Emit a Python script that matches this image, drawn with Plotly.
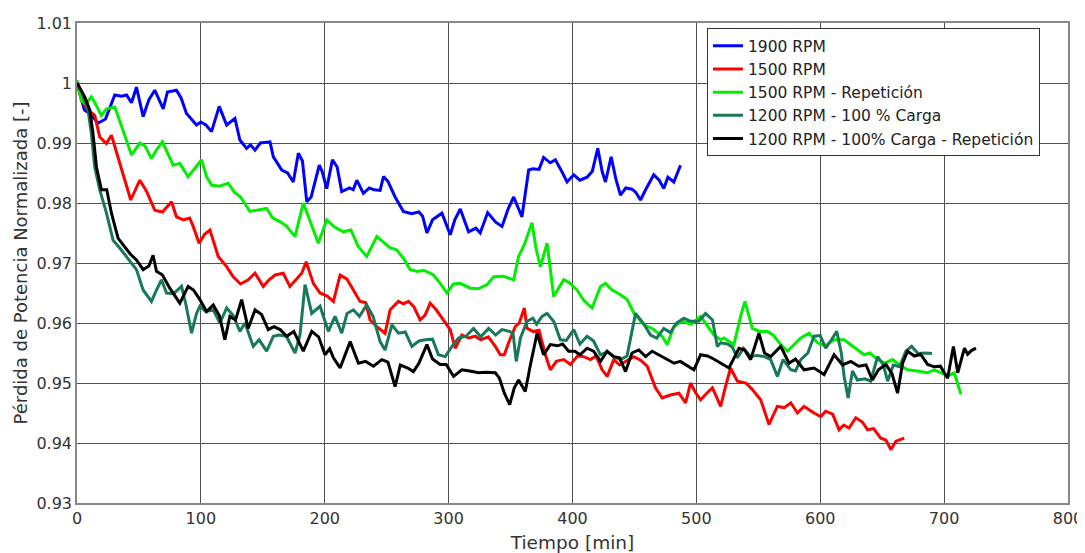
import plotly.graph_objects as go

# ---------------- data ----------------
t_1900 = [0, 6, 10.3, 17, 23, 30.5, 36, 40, 44, 48, 53.4, 58, 62.8, 69.6, 73, 80.3, 84, 88.4, 96.5, 100, 104, 108.6,
          114.8, 120.8, 127.5, 131.5, 136.9, 140, 143.7, 148, 155.8, 158.5, 165.3, 170, 174.6, 178.7, 182, 185.5, 189,
          195.6, 198, 201.6, 206.2, 210, 213.7, 220, 223, 225.9, 231.2, 236, 240, 244.7, 247.4, 251, 256.8, 263.5, 270,
          276, 279, 282.5, 287, 294.6, 301.3, 305, 309.4, 316.1, 322, 325.5, 331.5, 338, 343.1, 348, 352.5, 359.2, 364.6,
          368, 373, 376.7, 382, 386.2, 392, 395.6, 401, 406, 411.8, 416, 420.4, 424, 426.6, 431.2, 435, 438.7, 443, 448,
          451, 454.9, 459, 465.6, 470, 473.7, 477, 481.8, 487.2]
v_1900 = [1.0, 0.9955, 0.9949, 0.9933, 0.9940, 0.9980, 0.9978, 0.9980, 0.9967, 0.9993, 0.9944, 0.9972, 0.9988, 0.9957,
          0.9985, 0.9988, 0.9975, 0.9949, 0.9930, 0.9935, 0.9930, 0.9919, 0.9961, 0.9930, 0.9941, 0.9905, 0.9891, 0.9897,
          0.9888, 0.9900, 0.9902, 0.9877, 0.9855, 0.9850, 0.9835, 0.9883, 0.9870, 0.9802, 0.9810, 0.9863, 0.9852, 0.9824,
          0.9872, 0.9860, 0.9819, 0.9825, 0.9822, 0.9838, 0.9816, 0.9825, 0.9822, 0.9821, 0.9844, 0.9836, 0.9810, 0.9786,
          0.9782, 0.9785, 0.9778, 0.9750, 0.9772, 0.9783, 0.9747, 0.9772, 0.9790, 0.9752, 0.9758, 0.9750, 0.9784, 0.9768,
          0.9761, 0.9790, 0.9810, 0.9777, 0.9855, 0.9857, 0.9856, 0.9876, 0.9867, 0.9872, 0.9850, 0.9835, 0.9847, 0.9838,
          0.9843, 0.9853, 0.9891, 0.9852, 0.9835, 0.9877, 0.9840, 0.9813, 0.9825, 0.9823, 0.9818, 0.9805, 0.9822, 0.9847,
          0.9838, 0.9824, 0.9843, 0.9835, 0.9863]

t_1500 = [0, 4, 8.9, 14.3, 18.4, 23.7, 27.8, 33.2, 38.6, 43.4, 50.7, 56, 62.8, 69, 76.3, 80.3, 86, 91, 93.8, 98.6,
          103, 107.3, 114, 120.8, 126.1, 132, 138.2, 143.7, 150.4, 155, 160, 166.5, 171.9, 177, 181.4, 185, 190.8, 196.2,
          202, 207, 212.4, 218, 223.1, 228.5, 233, 236.6, 242, 248.7, 252.8, 259.5, 263.5, 267.6, 272, 277, 281, 285.1,
          290, 295.9, 301.3, 305.3, 310.7, 316, 321.5, 326, 332, 337.7, 341.7, 345, 348.4, 353.8, 357, 361.1, 363.3, 368,
          373, 378.1, 382.1, 387, 392.9, 398.3, 404, 409, 414.5, 419, 423.9, 428, 433.3, 438, 444, 449.5, 455, 460.3, 467,
          472.4, 479, 485.9, 491.3, 495.3, 499, 503.4, 508, 512.9, 516, 519.6, 523, 527.6, 533.1, 540, 545.2, 551.9, 558.6,
          565.4, 571, 576.2, 581.6, 586.9, 595, 600.4, 604.4, 610, 615.2, 619, 623.3, 628.7, 634, 638.2, 643, 648.9, 653,
          657, 661.1, 664, 667.8]
v_1500 = [1.0, 0.9970, 0.9955, 0.9946, 0.9910, 0.9899, 0.9913, 0.9877, 0.9838, 0.9805, 0.9838, 0.9820, 0.9788, 0.9785,
          0.9802, 0.9777, 0.9772, 0.9775, 0.9761, 0.9733, 0.9748, 0.9755, 0.9711, 0.9694, 0.9677, 0.9665, 0.9672, 0.9683,
          0.9661, 0.9672, 0.9680, 0.9683, 0.9661, 0.9672, 0.9683, 0.9702, 0.9666, 0.9650, 0.9645, 0.9636, 0.9680, 0.9673,
          0.9655, 0.9636, 0.9634, 0.9605, 0.9594, 0.9583, 0.9622, 0.9636, 0.9632, 0.9636, 0.9627, 0.9605, 0.9613, 0.9633,
          0.9622, 0.9605, 0.9589, 0.9558, 0.9580, 0.9575, 0.9578, 0.9572, 0.9577, 0.9561, 0.9547, 0.9547, 0.9567, 0.9594,
          0.9600, 0.9625, 0.9591, 0.9586, 0.9588, 0.9547, 0.9522, 0.9536, 0.9539, 0.9531, 0.9545, 0.9544, 0.9539, 0.9545,
          0.9522, 0.9511, 0.9539, 0.9530, 0.9537, 0.9544, 0.9538, 0.9528, 0.9492, 0.9475, 0.9480, 0.9483, 0.9467, 0.9500,
          0.9485, 0.9472, 0.9482, 0.9492, 0.9478, 0.9461, 0.9490, 0.9525, 0.9503, 0.9500, 0.9489, 0.9472, 0.9431, 0.9461,
          0.9459, 0.9467, 0.9450, 0.9461, 0.9450, 0.9444, 0.9453, 0.9448, 0.9422, 0.9430, 0.9425, 0.9442, 0.9435, 0.9422,
          0.9424, 0.9408, 0.9405, 0.9389, 0.9403, 0.9405, 0.9408]

t_1500r = [0, 3.5, 7, 11.6, 15, 19.7, 23.8, 30.5, 37.2, 44, 50.7, 55, 60.1, 64, 69, 73, 77.6, 83, 89.7, 95.2, 100.6,
           104.6, 108.6, 115, 122.1, 127, 132, 139.6, 146, 153.1, 158, 163.9, 169.3, 176, 182.7, 188, 194.8, 201.6, 208,
           215, 221, 227.2, 233.9, 242, 248, 252.8, 258, 263.5, 269, 275, 280, 287.8, 293.2, 298.6, 304, 309.4, 317.5,
           324, 331, 336.3, 344, 352.5, 356.5, 361, 367.3, 370.5, 374.1, 379.5, 384.8, 392.9, 397, 403.7, 409, 415.8, 422.6,
           426.6, 432, 438.7, 444.1, 449.5, 457.6, 465, 472.4, 476.5, 481.8, 488.6, 496, 503.4, 509, 514.1, 519.6, 522.2,
           530.3, 535.7, 539.2, 545.2, 551, 557.3, 562, 568.1, 573.5, 579, 584.3, 591, 597.8, 604, 611.2, 619.3, 627,
           635.5, 640, 646.3, 652, 658.4, 664, 670.5, 678, 686.7, 692, 697.5, 703, 708.2, 713.6]
v_1500r = [1.0005, 0.9971, 0.9965, 0.9977, 0.9965, 0.9946, 0.9957, 0.9960, 0.9921, 0.9880, 0.9900, 0.9895, 0.9874,
           0.9888, 0.9902, 0.9885, 0.9863, 0.9866, 0.9844, 0.9858, 0.9872, 0.9844, 0.9830, 0.9828, 0.9833, 0.9818, 0.9810,
           0.9786, 0.9788, 0.9791, 0.9775, 0.9769, 0.9761, 0.9744, 0.9800, 0.9770, 0.9733, 0.9772, 0.9760, 0.9752, 0.9755,
           0.9727, 0.9711, 0.9744, 0.9733, 0.9725, 0.9722, 0.9708, 0.9689, 0.9686, 0.9688, 0.9680, 0.9666, 0.9650, 0.9665,
           0.9666, 0.9658, 0.9657, 0.9664, 0.9677, 0.9678, 0.9672, 0.9711, 0.9730, 0.9767, 0.9725, 0.9694, 0.9733, 0.9644,
           0.9672, 0.9668, 0.9655, 0.9638, 0.9625, 0.9661, 0.9666, 0.9655, 0.9647, 0.9639, 0.9617, 0.9597, 0.9590, 0.9578,
           0.9564, 0.9594, 0.9603, 0.9598, 0.9611, 0.9595, 0.9580, 0.9572, 0.9575, 0.9564, 0.9611, 0.9636, 0.9591, 0.9586,
           0.9586, 0.9580, 0.9564, 0.9553, 0.9565, 0.9575, 0.9583, 0.9567, 0.9562, 0.9572, 0.9572, 0.9560, 0.9547, 0.9550,
           0.9539, 0.9533, 0.9539, 0.9530, 0.9522, 0.9520, 0.9517, 0.9522, 0.9517, 0.9512, 0.9517, 0.9481]

t_1200 = [0, 4, 8.9, 11.6, 14.3, 18.4, 23.8, 29.1, 34.5, 39.9, 44, 48, 53.4, 60.1, 64.2, 68.2, 72.3, 78, 84.4, 88,
          92.5, 96.5, 99.2, 104, 110, 115.4, 120.8, 126, 131.5, 135.6, 142.3, 147, 153.1, 158.5, 163, 169, 176, 180,
          184.1, 189.5, 196.2, 202.9, 208.3, 213.7, 218, 223.1, 228, 233.9, 239, 244.7, 248.7, 254.2, 259.5, 265, 270.3,
          276, 281.1, 287, 291.8, 297.3, 303, 308, 314, 320.1, 326, 332.3, 338, 343.1, 349, 352, 354.6, 358, 363.3, 368,
          371, 375.4, 379.5, 385, 390.2, 395, 401, 406, 411.8, 417, 422.6, 428, 433.3, 438.7, 444, 450.9, 457, 463, 468,
          473.7, 479, 484, 489.9, 495, 502, 507.4, 513, 516.9, 519.6, 525, 529, 533.1, 538, 543.8, 549, 555, 560, 565.4,
          570, 576.2, 580, 584.3, 590, 595, 600, 604.4, 609, 613.3, 617, 619.3, 622.5, 626, 630, 636, 640.7, 646.3, 651,
          654.4, 659, 664, 669.1, 673.8, 679, 685, 690.2]
v_1200 = [1.0, 0.9985, 0.9955, 0.9916, 0.9860, 0.9822, 0.9783, 0.9738, 0.9725, 0.9711, 0.9700, 0.9689, 0.9655, 0.9636,
          0.9655, 0.9672, 0.9650, 0.9649, 0.9661, 0.9630, 0.9583, 0.9616, 0.9628, 0.9619, 0.9622, 0.9600, 0.9625, 0.9613,
          0.9586, 0.9600, 0.9561, 0.9572, 0.9553, 0.9578, 0.9580, 0.9578, 0.9550, 0.9580, 0.9664, 0.9616, 0.9628, 0.9586,
          0.9611, 0.9583, 0.9616, 0.9622, 0.9611, 0.9630, 0.9611, 0.9569, 0.9555, 0.9597, 0.9583, 0.9585, 0.9561, 0.9570,
          0.9572, 0.9573, 0.9547, 0.9544, 0.9562, 0.9575, 0.9578, 0.9591, 0.9577, 0.9591, 0.9580, 0.9589, 0.9586, 0.9583,
          0.9536, 0.9575, 0.9603, 0.9608, 0.9598, 0.9611, 0.9616, 0.9602, 0.9572, 0.9571, 0.9589, 0.9565, 0.9578, 0.9570,
          0.9547, 0.9552, 0.9544, 0.9539, 0.9545, 0.9616, 0.9600, 0.9580, 0.9575, 0.9591, 0.9584, 0.9600, 0.9608, 0.9603,
          0.9603, 0.9616, 0.9605, 0.9561, 0.9567, 0.9565, 0.9560, 0.9542, 0.9558, 0.9544, 0.9546, 0.9544, 0.9539, 0.9511,
          0.9539, 0.9522, 0.9520, 0.9539, 0.9550, 0.9578, 0.9579, 0.9558, 0.9572, 0.9586, 0.9550, 0.9511, 0.9475, 0.9520,
          0.9505, 0.9507, 0.9503, 0.9544, 0.9530, 0.9503, 0.9530, 0.9527, 0.9553, 0.9561, 0.9549, 0.9550, 0.9549]

t_1200r = [0, 6.2, 10.3, 12.9, 15.7, 19.7, 24, 27.8, 33.2, 38.6, 43, 48, 53.4, 58, 61.4, 64.2, 69, 74.9, 83, 89.7,
           94, 99.2, 104.6, 110, 115, 119.4, 123.4, 128, 132.9, 138.2, 143.7, 149, 154.4, 159, 164, 169.3, 175, 182.7,
           189.5, 195, 200.2, 204, 207, 212.4, 220.5, 227.2, 233, 239.3, 246.1, 251, 256.8, 261, 267, 271.6, 276, 282.5,
           287, 293.2, 298, 304, 310.7, 317, 324.2, 330, 337.7, 341, 345, 349.3, 353, 356.5, 361.9, 366, 371.4, 374,
           376.7, 382.1, 388, 392, 396.9, 402, 406, 411.8, 417, 422.6, 428, 433.3, 438, 442.8, 448, 453.5, 459, 464.3,
           470, 476.5, 482, 487, 492, 498, 503.4, 509, 514, 519.6, 526.3, 534.4, 539, 543.8, 550.5, 555, 560, 568.1,
           574.8, 580, 586.9, 595, 603.1, 611.2, 618, 624.7, 631, 637, 642.1, 647, 653, 658, 662.4, 666.5, 670.5, 676,
           681, 686.7, 692, 697, 702.8, 707.5, 711, 716.4, 719, 722, 725.7]
v_1200r = [1.0, 0.9977, 0.9955, 0.9916, 0.9860, 0.9822, 0.9822, 0.9783, 0.9741, 0.9727, 0.9715, 0.9705, 0.9689, 0.9695,
           0.9713, 0.9686, 0.9680, 0.9658, 0.9633, 0.9661, 0.9655, 0.9639, 0.9619, 0.9630, 0.9612, 0.9572, 0.9611, 0.9605,
           0.9639, 0.9591, 0.9622, 0.9614, 0.9589, 0.9594, 0.9589, 0.9578, 0.9586, 0.9553, 0.9586, 0.9577, 0.9547, 0.9557,
           0.9542, 0.9525, 0.9569, 0.9533, 0.9536, 0.9528, 0.9539, 0.9535, 0.9494, 0.9530, 0.9525, 0.9519, 0.9533, 0.9564,
           0.9540, 0.9531, 0.9531, 0.9511, 0.9522, 0.9520, 0.9517, 0.9518, 0.9517, 0.9508, 0.9483, 0.9464, 0.9492, 0.9505,
           0.9486, 0.9530, 0.9583, 0.9565, 0.9547, 0.9564, 0.9562, 0.9565, 0.9553, 0.9553, 0.9547, 0.9558, 0.9553, 0.9536,
           0.9553, 0.9544, 0.9542, 0.9519, 0.9550, 0.9555, 0.9544, 0.9553, 0.9547, 0.9539, 0.9533, 0.9536, 0.9530, 0.9522,
           0.9547, 0.9545, 0.9540, 0.9533, 0.9525, 0.9558, 0.9555, 0.9539, 0.9583, 0.9550, 0.9544, 0.9561, 0.9533, 0.9540,
           0.9522, 0.9525, 0.9514, 0.9547, 0.9530, 0.9536, 0.9528, 0.9530, 0.9505, 0.9522, 0.9531, 0.9515, 0.9483, 0.9533,
           0.9553, 0.9545, 0.9548, 0.9531, 0.9527, 0.9528, 0.9508, 0.9561, 0.9517, 0.9558, 0.9548, 0.9554, 0.9558]

series_names = ["1900 RPM", "1500 RPM", "1500 RPM - Repetición", "1200 RPM - 100 % Carga",
                "1200 RPM - 100% Carga - Repetición"]
series_colors = ["#0000FF", "#FF0000", "#00EE00", "#17785A", "#000000"]

x_ticks = [0, 100, 200, 300, 400, 500, 600, 700, 800]
y_ticks = [0.93, 0.94, 0.95, 0.96, 0.97, 0.98, 0.99, 1.0, 1.01]
y_tick_text = ["0.93", "0.94", "0.95", "0.96", "0.97", "0.98", "0.99", "1", "1.01"]

# ---------------- figure ----------------
FONT = "DejaVu Sans, Verdana, sans-serif"
fig = go.Figure()
all_t = [t_1900, t_1500, t_1500r, t_1200, t_1200r]
all_v = [v_1900, v_1500, v_1500r, v_1200, v_1200r]
for name, color, tt, vv in zip(series_names, series_colors, all_t, all_v):
    fig.add_trace(go.Scatter(x=tt, y=vv, mode="lines", name=name,
                             line=dict(color=color, width=3)))

grid_color = "#505050"
# the page body adds an 8 px margin, so the figure is sized/positioned to compensate
fig.update_layout(
    width=1077, height=545,
    margin=dict(l=69, r=17, t=15, b=50),
    paper_bgcolor="white", plot_bgcolor="white",
    font=dict(family=FONT, size=16, color="#333333"),
    showlegend=True,
    legend=dict(x=0.6357, y=0.989, xanchor="left", yanchor="top",
                bgcolor="white", bordercolor="#333333", borderwidth=1,
                font=dict(family=FONT, size=15.5, color="#222222"),
                tracegroupgap=0, itemwidth=30),
)
fig.update_xaxes(range=[0, 800], tickvals=x_ticks, ticks="", showgrid=True, gridcolor=grid_color, gridwidth=1.2,
                 showline=True, linecolor="#888888", linewidth=1.5, mirror=True, zeroline=False,
                 automargin=False, ticklabelstandoff=0,
                 tickfont=dict(family=FONT, size=16, color="#333333"),
                 title=dict(text="Tiempo [min]", font=dict(family=FONT, size=18.5, color="#333333"), standoff=10))
fig.update_yaxes(range=[0.93, 1.01], tickvals=y_ticks, ticktext=y_tick_text, ticks="", showgrid=True,
                 gridcolor=grid_color, gridwidth=1.2,
                 showline=True, linecolor="#888888", linewidth=1.5, mirror=True, zeroline=False,
                 automargin=False, ticklabelstandoff=0,
                 tickfont=dict(family=FONT, size=16, color="#333333"),
                 title=dict(text="Pérdida de Potencia Normalizada [-]", font=dict(family=FONT, size=18, color="#333333"),
                            standoff=4))

fig.write_html("out.html")
